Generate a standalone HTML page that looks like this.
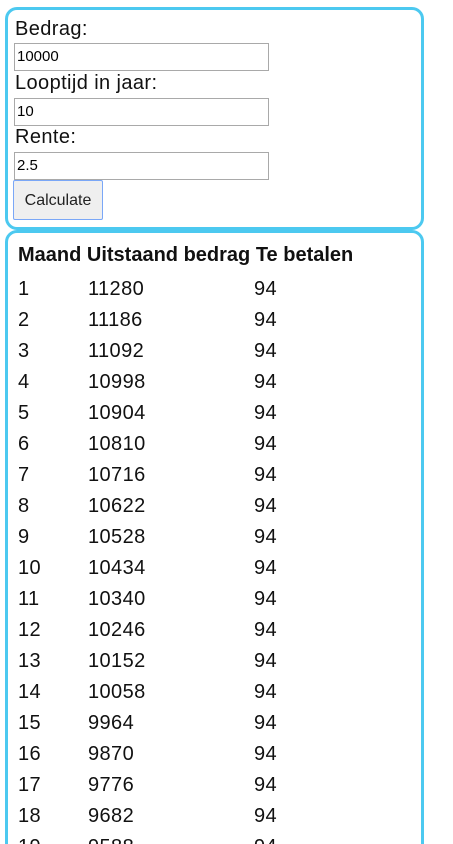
<!DOCTYPE html>
<html style="height:844px;overflow:hidden"><head><meta charset="utf-8"><style>
body{margin:0;width:453px;height:844px;overflow:hidden;background:#fff;font-family:"Liberation Sans",sans-serif;color:#111;position:relative}
.box{position:absolute;border:3px solid #4cc9f0;border-radius:12px;box-sizing:border-box}
.t{position:absolute;font-size:20px;line-height:20px;white-space:nowrap;letter-spacing:0.4px}
.inp{position:absolute;left:14px;width:255px;height:28px;border:1px solid #a9a9a9;box-sizing:border-box;font-size:15px;line-height:26px;padding-left:2px;color:#000}
.btn{position:absolute;left:13px;top:180px;width:90px;height:40px;border:1px solid #7aa7f7;background:#efefef;box-sizing:border-box;border-radius:2px;font-size:16px;line-height:40px;text-align:center;color:#222}
</style></head><body>
<div class="box" style="left:5px;top:7px;width:419px;height:223px"></div>
<div class="box" style="left:5px;top:230px;width:419px;height:640px"></div>
<div class="t" style="left:15px;top:19px">Bedrag:</div>
<div class="inp" style="top:43px">10000</div>
<div class="t" style="left:15px;top:73px">Looptijd in jaar:</div>
<div class="inp" style="top:98px">10</div>
<div class="t" style="left:15px;top:127px">Rente:</div>
<div class="inp" style="top:152px">2.5</div>
<div class="btn">Calculate</div>
<div class="t" style="left:18px;top:245px;font-weight:bold;letter-spacing:0px">Maand Uitstaand bedrag Te betalen</div>
<div id="rows"></div>
<script>
const months=[1,2,3,4,5,6,7,8,9,10,11,12,13,14,15,16,17,18,19];
const balances=[11280,11186,11092,10998,10904,10810,10716,10622,10528,10434,10340,10246,10152,10058,9964,9870,9776,9682,9588];
const payments=[94,94,94,94,94,94,94,94,94,94,94,94,94,94,94,94,94,94,94];
const c=document.getElementById('rows');
months.forEach((m,i)=>{
  const top=279+31*i;
  [[18,m,'month'],[88,balances[i],'balance'],[254,payments[i],'payment']].forEach(([x,v,n])=>{
    const d=document.createElement('div');
    d.className='t';
    d.style.left=x+'px';d.style.top=top+'px';
    d.textContent=v;
    
    
    c.appendChild(d);
  });
});
</script>
</body></html>
